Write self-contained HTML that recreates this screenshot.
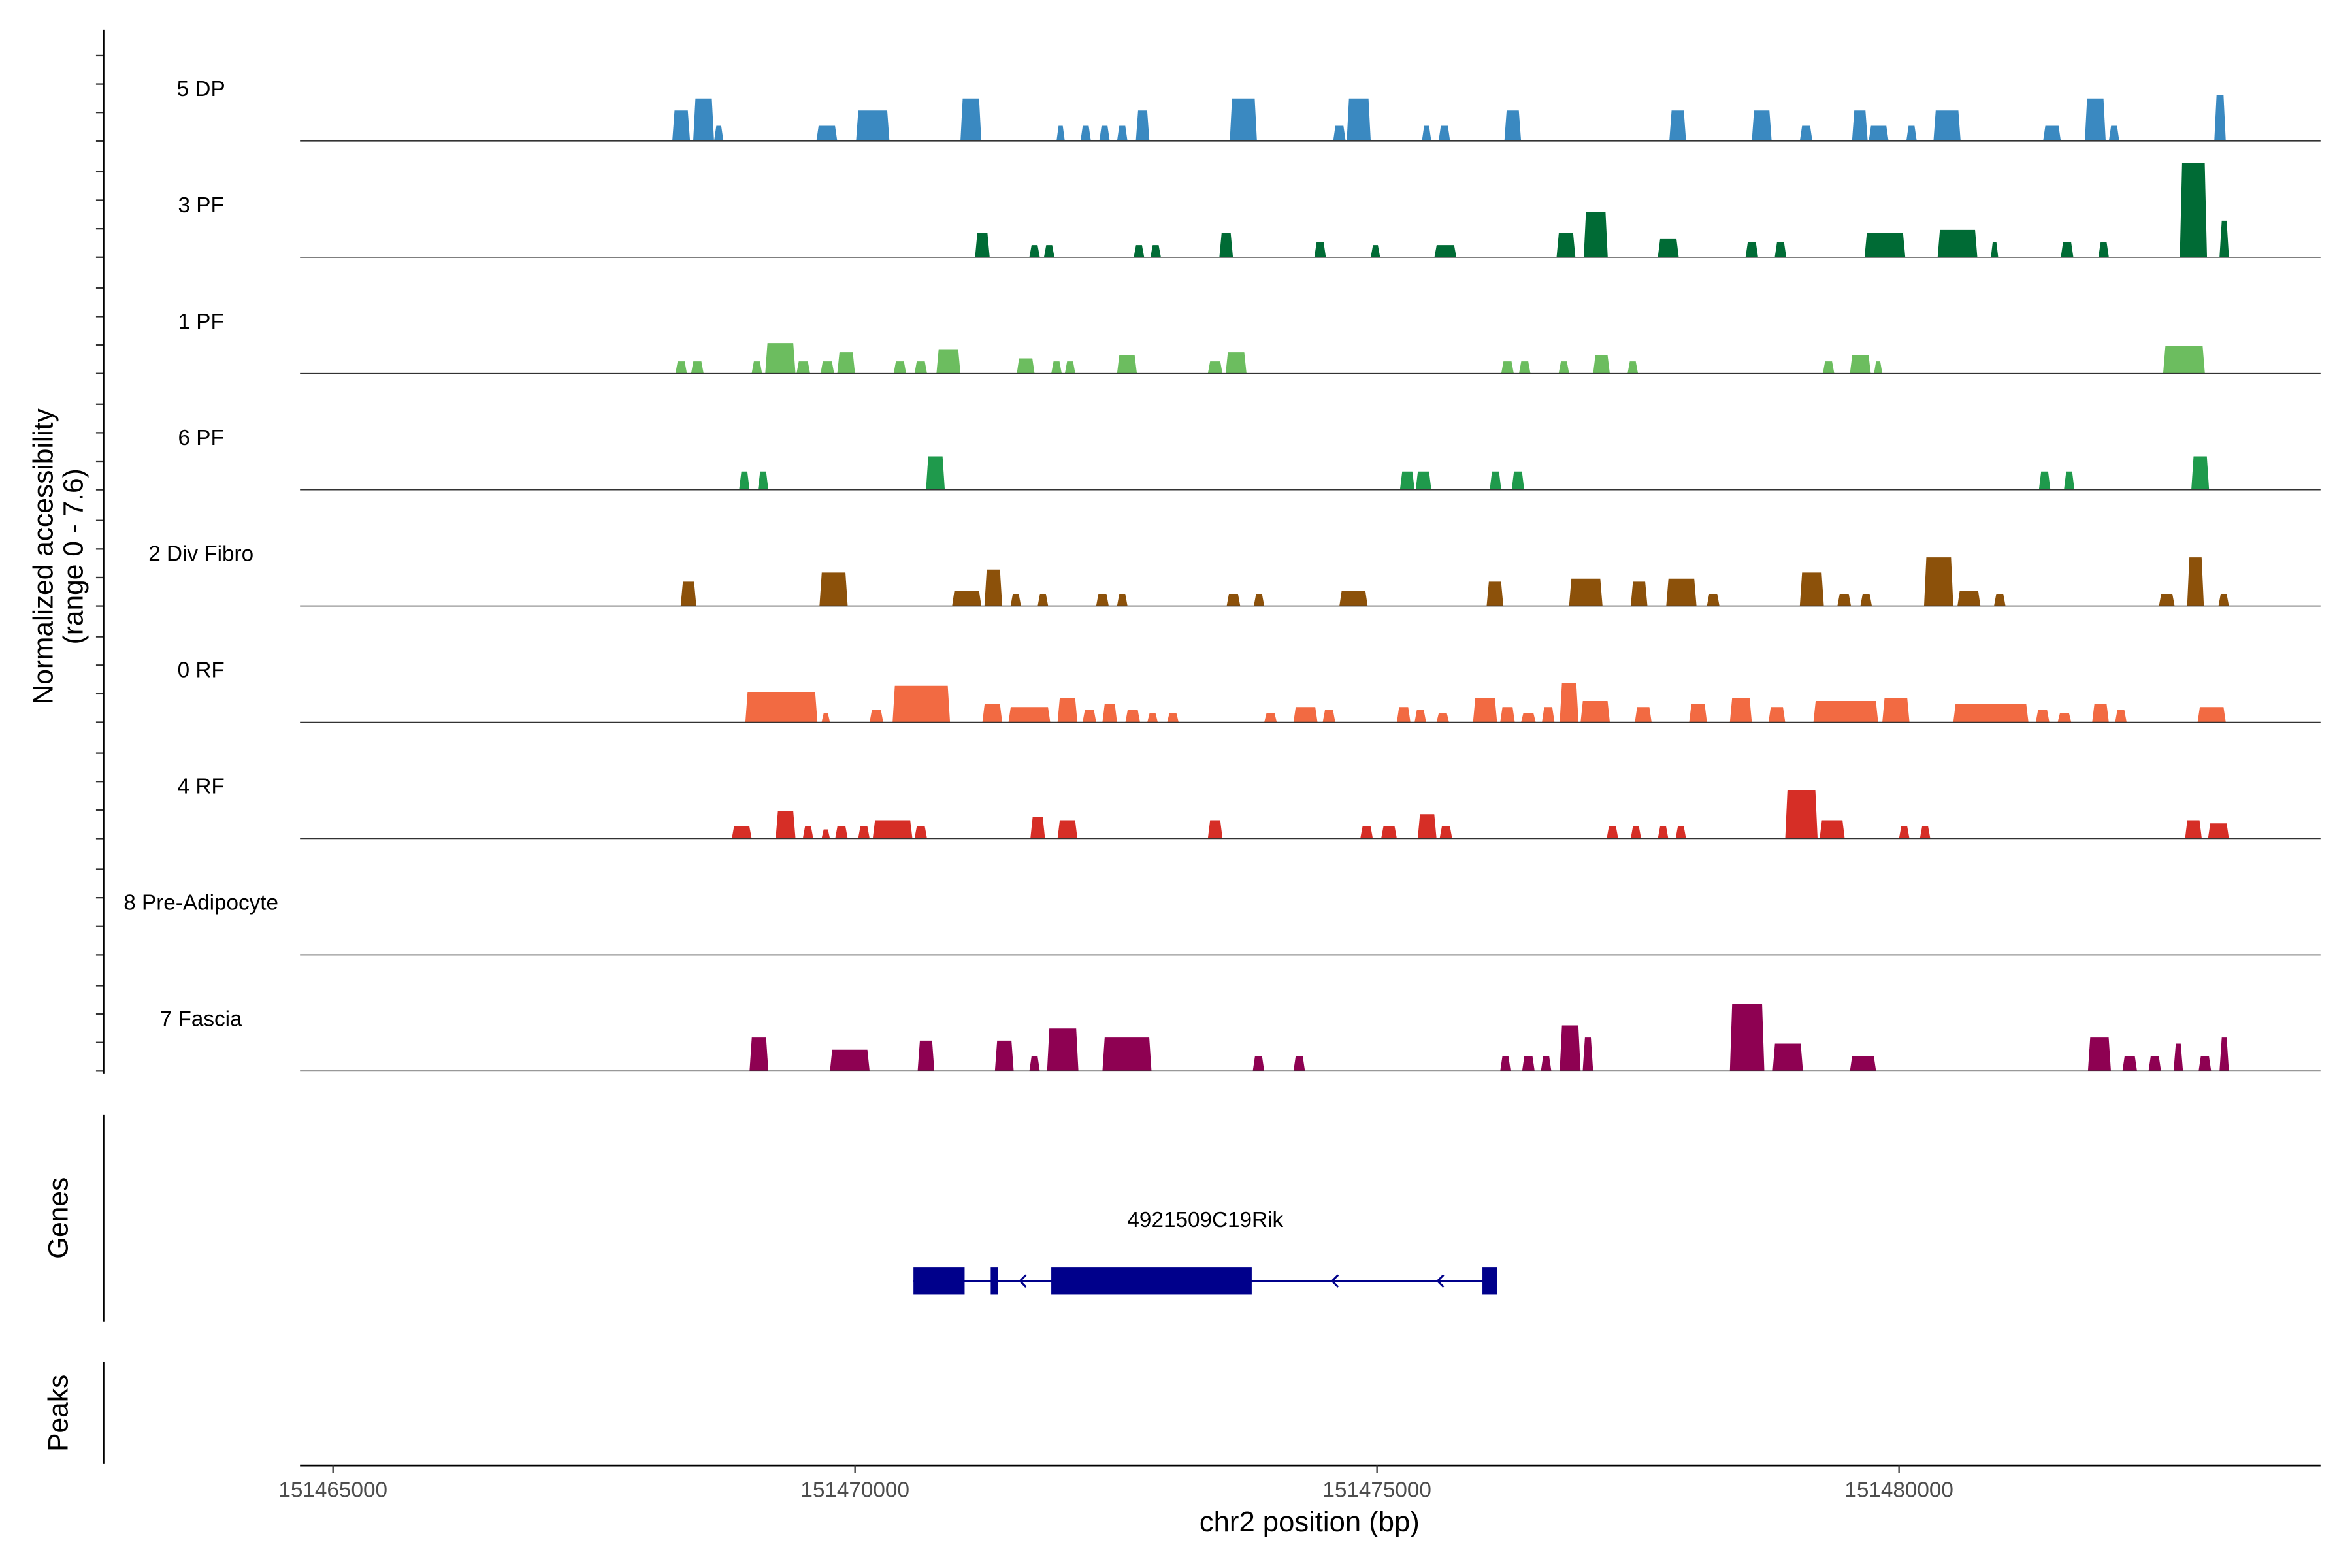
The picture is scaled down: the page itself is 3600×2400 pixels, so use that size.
<!DOCTYPE html>
<html><head><meta charset="utf-8"><style>
html,body{margin:0;padding:0;background:#fff}
svg{display:block}
text{font-family:"Liberation Sans",Arial,sans-serif}
</style></head><body>
<svg id="chart" xmlns="http://www.w3.org/2000/svg" width="3600" height="2400" viewBox="0 0 1568 1045.3" preserveAspectRatio="none">
<g id="tracks"></g>
<g id="axes"></g>
<g id="genes"></g>
</svg>
<script>
// Genomic region (kb offsets from 151465 kb)
const regionStartBp = 151465000;
const trackNames = ["5 DP","3 PF","1 PF","6 PF","2 Div Fibro","0 RF","4 RF","8 Pre-Adipocyte","7 Fascia"];
const trackColors = ["#3a89c1","#006b35","#6cbd5f","#1f9a4c","#8c510a","#f26a42","#d62e26","#888888","#8e0152"];
const xTickLabels = ["151465000","151470000","151475000","151480000"];
const xTickBp = [151465000,151470000,151475000,151480000];
const yMax = 7.6;
// peaks: [startKbOffset, endKbOffset, height]
const peaks5DP = [[3.25,3.42,2.0],[3.45,3.65,2.8],[3.65,3.74,1.0],[4.63,4.83,1.0],[5.01,5.33,2.0],[6.01,6.21,2.8],[6.93,7.01,1.0],[7.16,7.26,1.0],[7.34,7.44,1.0],[7.51,7.61,1.0],[7.69,7.82,2.0],[8.59,8.85,2.8],[9.58,9.70,1.0],[9.71,9.94,2.8],[10.43,10.52,1.0],[10.59,10.70,1.0],[11.22,11.38,2.0],[12.80,12.96,2.0],[13.59,13.78,2.0],[14.05,14.17,1.0],[14.55,14.70,2.0],[14.71,14.90,1.0],[15.07,15.17,1.0],[15.33,15.59,2.0],[16.38,16.55,1.0],[16.78,16.98,2.8],[17.01,17.11,1.0],[18.02,18.13,3.0]];
const peaks3PF = [[6.15,6.29,1.6],[6.67,6.77,0.8],[6.81,6.91,0.8],[7.67,7.77,0.8],[7.83,7.93,0.8],[8.49,8.62,1.6],[9.40,9.51,1.0],[9.94,10.03,0.8],[10.55,10.76,0.8],[11.72,11.90,1.6],[11.98,12.21,3.0],[12.69,12.89,1.2],[13.53,13.65,1.0],[13.81,13.92,1.0],[14.67,15.06,1.6],[15.37,15.75,1.8],[15.88,15.95,1.0],[16.55,16.67,1.0],[16.91,17.01,1.0],[17.69,17.95,6.2],[18.07,18.16,2.4]];
const peaks1PF = [[3.28,3.39,0.8],[3.43,3.55,0.8],[4.01,4.11,0.8],[4.14,4.43,2.0],[4.44,4.57,0.8],[4.67,4.80,0.8],[4.83,5.00,1.4],[5.37,5.49,0.8],[5.57,5.69,0.8],[5.78,6.01,1.6],[6.55,6.72,1.0],[6.88,6.98,0.8],[7.01,7.11,0.8],[7.51,7.70,1.2],[8.38,8.52,0.8],[8.55,8.75,1.4],[11.19,11.31,0.8],[11.36,11.47,0.8],[11.74,11.84,0.8],[12.07,12.23,1.2],[12.40,12.50,0.8],[14.27,14.38,0.8],[14.53,14.73,1.2],[14.76,14.84,0.8],[17.53,17.93,1.8]];
const peaks6PF = [[3.89,3.99,1.2],[4.07,4.17,1.2],[5.68,5.86,2.2],[10.22,10.36,1.2],[10.37,10.52,1.2],[11.08,11.19,1.2],[11.29,11.41,1.2],[16.34,16.45,1.2],[16.58,16.68,1.2],[17.80,17.97,2.2]];
const peaksDivFibro = [[3.33,3.48,1.6],[4.66,4.93,2.2],[5.93,6.21,1.0],[6.24,6.41,2.4],[6.49,6.59,0.8],[6.75,6.85,0.8],[7.31,7.43,0.8],[7.51,7.61,0.8],[8.56,8.69,0.8],[8.82,8.92,0.8],[9.64,9.91,1.0],[11.05,11.21,1.6],[11.84,12.16,1.8],[12.43,12.59,1.6],[12.77,13.06,1.8],[13.16,13.28,0.8],[14.05,14.28,2.2],[14.41,14.54,0.8],[14.63,14.74,0.8],[15.24,15.52,3.2],[15.56,15.78,1.0],[15.91,16.02,0.8],[17.49,17.64,0.8],[17.76,17.92,3.2],[18.06,18.16,0.8]];
const peaks0RF = [[3.95,4.64,2.0],[4.68,4.76,0.6],[5.14,5.27,0.8],[5.36,5.91,2.4],[6.22,6.41,1.2],[6.47,6.87,1.0],[6.94,7.13,1.6],[7.18,7.31,0.8],[7.37,7.51,1.2],[7.59,7.73,0.8],[7.80,7.90,0.6],[7.99,8.10,0.6],[8.92,9.04,0.6],[9.20,9.43,1.0],[9.48,9.60,0.8],[10.19,10.32,1.0],[10.36,10.47,0.8],[10.57,10.69,0.6],[10.92,11.15,1.6],[11.18,11.32,1.0],[11.38,11.52,0.6],[11.58,11.70,1.0],[11.75,11.93,2.6],[11.95,12.23,1.4],[12.47,12.63,1.0],[12.99,13.16,1.2],[13.38,13.59,1.6],[13.75,13.91,1.0],[14.18,14.80,1.4],[14.84,15.10,1.6],[15.52,16.24,1.2],[16.31,16.44,0.8],[16.52,16.65,0.6],[16.85,17.01,1.2],[17.07,17.18,0.8],[17.86,18.13,1.0]];
const peaks4RF = [[3.82,4.01,0.8],[4.24,4.43,1.8],[4.50,4.60,0.8],[4.68,4.76,0.6],[4.81,4.93,0.8],[5.03,5.14,0.8],[5.17,5.55,1.2],[5.57,5.69,0.8],[6.68,6.82,1.4],[6.94,7.13,1.2],[8.38,8.52,1.2],[9.84,9.96,0.8],[10.04,10.19,0.8],[10.39,10.57,1.6],[10.60,10.72,0.8],[12.20,12.31,0.8],[12.43,12.53,0.8],[12.69,12.79,0.8],[12.86,12.96,0.8],[13.91,14.22,3.2],[14.24,14.48,1.2],[15.00,15.10,0.8],[15.20,15.30,0.8],[17.74,17.90,1.2],[17.96,18.16,1.0]];
const peaksPreAdipocyte = [];
const peaksFascia = [[3.99,4.17,2.2],[4.76,5.14,1.4],[5.60,5.76,2.0],[6.34,6.52,2.0],[6.67,6.77,1.0],[6.84,7.14,2.8],[7.37,7.84,2.2],[8.81,8.92,1.0],[9.20,9.31,1.0],[11.18,11.28,1.0],[11.39,11.51,1.0],[11.57,11.67,1.0],[11.75,11.95,3.0],[11.97,12.07,2.2],[13.38,13.71,4.4],[13.79,14.08,1.8],[14.53,14.78,1.0],[16.81,17.03,2.2],[17.14,17.28,1.0],[17.39,17.51,1.0],[17.63,17.72,1.8],[17.87,17.99,1.0],[18.07,18.16,2.2]];
// gene model (kb offsets)
const geneName = "4921509C19Rik";
const geneSpan = [5.56,11.15];
const geneExons = [[5.56,6.05],[6.30,6.37],[6.88,8.80],[11.01,11.15]];
const geneArrows = [6.58,9.57,10.58];

const allPeaks = [peaks5DP,peaks3PF,peaks1PF,peaks6PF,peaksDivFibro,peaks0RF,peaks4RF,peaksPreAdipocyte,peaksFascia];
const NS="http://www.w3.org/2000/svg";
const plotL=200, plotR=1547;
const pxPerKb=69.6, x0=222;
function xScale(kb){return x0+kb*pxPerKb;}
function xBp(bp){return xScale((bp-regionStartBp)/1000);}
const baseline0=94, trackStep=77.5, trackH=77;
function yScale(v,base){return base - v/yMax*trackH;}
function mk(tag,attrs,parent){const e=document.createElementNS(NS,tag);for(const k in attrs)e.setAttribute(k,attrs[k]);parent.appendChild(e);return e;}
const gT=document.getElementById('tracks'), gA=document.getElementById('axes'), gG=document.getElementById('genes');

allPeaks.forEach((pk,i)=>{
  const base=baseline0+i*trackStep;
  const g=mk('g',{},gT);
  
  
  const lab=mk('text',{x:134,y:base-30,'text-anchor':'middle','font-size':14.5,fill:'#000'},g);
  lab.textContent=trackNames[i];
  
  
  pk.forEach(p=>{
    const xa=xScale(p[0]), xb=xScale(p[1]), yt=yScale(p[2],base);
    const ins=Math.min(1.5,(xb-xa)/4);
    const poly=mk('polygon',{points:`${xa},${base} ${xa+ins},${yt} ${xb-ins},${yt} ${xb},${base}`,fill:trackColors[i]},g);
    
    
  });
  const bl=mk('line',{x1:plotL,x2:plotR,y1:base,y2:base,stroke:'#333','stroke-width':0.7},g);
  
  
  for(let k=0;k<4;k++){
    const t=mk('line',{x1:64,x2:69,y1:base-k*19,y2:base-k*19,stroke:'#333','stroke-width':1},gA);
    
    
  }
});
// left axes
let e;
e=mk('line',{x1:69,x2:69,y1:20,y2:716,stroke:'#000','stroke-width':1.2},gA);


e=mk('line',{x1:69,x2:69,y1:743,y2:881,stroke:'#000','stroke-width':1.2},gA);


e=mk('line',{x1:69,x2:69,y1:908,y2:976,stroke:'#000','stroke-width':1.2},gA);


e=mk('text',{x:0,y:0,transform:'translate(35,371) rotate(-90)','text-anchor':'middle','font-size':18.5,fill:'#000'},gA);
e.textContent='Normalized accessibility';


e=mk('text',{x:0,y:0,transform:'translate(55,371) rotate(-90)','text-anchor':'middle','font-size':18.5,fill:'#000'},gA);
e.textContent='(range 0 - 7.6)';


e=mk('text',{x:0,y:0,transform:'translate(45,812) rotate(-90)','text-anchor':'middle','font-size':18.5,fill:'#000'},gA);
e.textContent='Genes';


e=mk('text',{x:0,y:0,transform:'translate(45,942) rotate(-90)','text-anchor':'middle','font-size':18.5,fill:'#000'},gA);
e.textContent='Peaks';


// x axis
e=mk('line',{x1:plotL,x2:plotR,y1:977,y2:977,stroke:'#000','stroke-width':1.2},gA);


xTickBp.forEach((bp,i)=>{
  const x=xBp(bp);
  const t=mk('line',{x1:x,x2:x,y1:977,y2:982,stroke:'#333','stroke-width':1},gA);
  
  
  const l=mk('text',{x:x,y:998,'text-anchor':'middle','font-size':14.5,fill:'#4d4d4d'},gA);
  l.textContent=xTickLabels[i];
  
  
});
e=mk('text',{x:873,y:1021,'text-anchor':'middle','font-size':19,fill:'#000'},gA);
e.textContent='chr2 position (bp)';


// gene
const gy=854;
e=mk('line',{x1:xScale(geneSpan[0]),x2:xScale(geneSpan[1]),y1:gy,y2:gy,stroke:'#00008b','stroke-width':1.5},gG);


geneExons.forEach(ex=>{
  const r=mk('rect',{x:xScale(ex[0]),y:gy-9,width:xScale(ex[1])-xScale(ex[0]),height:18,fill:'#00008b'},gG);
  
  
});
geneArrows.forEach(a=>{
  const x=xScale(a);
  const p=mk('polyline',{points:`${x+4},${gy-4} ${x},${gy} ${x+4},${gy+4}`,fill:'none',stroke:'#00008b','stroke-width':1.3},gG);
  
  
});
e=mk('text',{x:(xScale(geneSpan[0])+xScale(geneSpan[1]))/2,y:818,'text-anchor':'middle','font-size':14.5,fill:'#000'},gG);
e.textContent=geneName;


</script>
</body></html>
